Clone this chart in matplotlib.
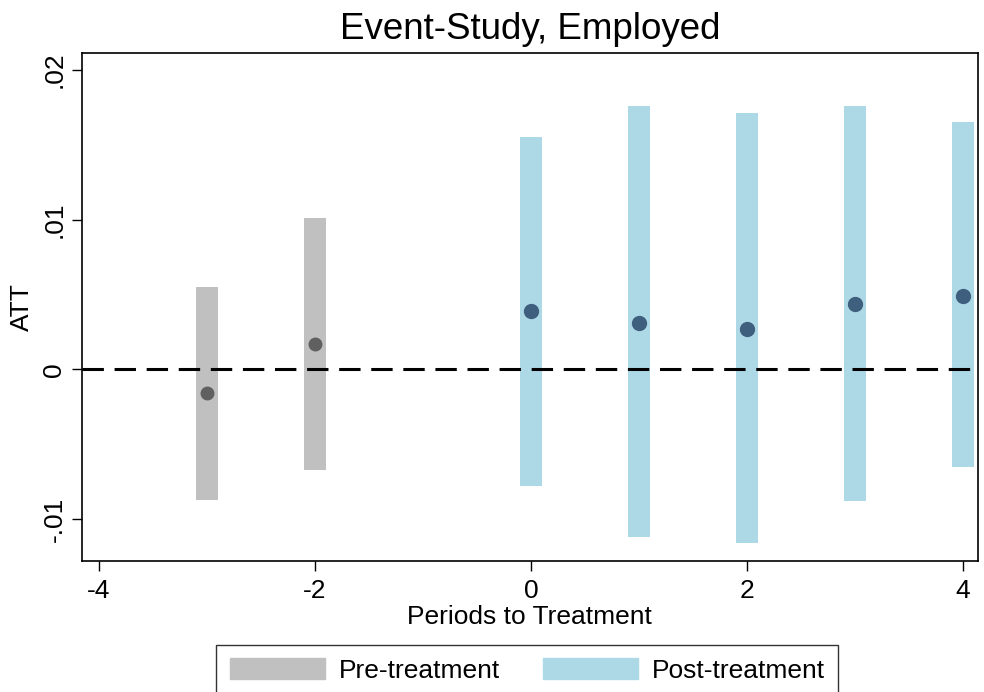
import matplotlib.pyplot as plt
from matplotlib.patches import Patch

plt.rcParams['font.family'] = ['Liberation Sans', 'DejaVu Sans']

# event-study estimates
pre_periods = [-3, -2]
pre_att = [-0.0016, 0.0017]
pre_lo = [-0.0087, -0.0067]
pre_hi = [0.0055, 0.0101]

post_periods = [0, 1, 2, 3, 4]
post_att = [0.0039, 0.0031, 0.0027, 0.0044, 0.0049]
post_lo = [-0.0078, -0.0112, -0.0116, -0.0088, -0.0065]
post_hi = [0.0155, 0.0176, 0.0171, 0.0176, 0.0165]

yticks = [-0.01, 0, 0.01, 0.02]
ytick_labels = ["-.01", "0", ".01", ".02"]
xticks = [-4, -2, 0, 2, 4]

pre_bar = "#c0c0c0"
post_bar = "#add8e6"
pre_dot = "#606060"
post_dot = "#3e5f7d"

fig = plt.figure(figsize=(9.84, 6.92), dpi=100)
ax = fig.add_axes([0.083, 0.189, 0.911, 0.734])

ax.bar(pre_periods, [h - l for h, l in zip(pre_hi, pre_lo)], bottom=pre_lo,
       width=0.2, color=pre_bar, zorder=2)
ax.bar(post_periods, [h - l for h, l in zip(post_hi, post_lo)], bottom=post_lo,
       width=0.2, color=post_bar, zorder=2)

ax.axhline(0, color="black", lw=2.2, dashes=(7, 3.5), zorder=3)

ax.plot(pre_periods, pre_att, "o", color=pre_dot, markersize=9, zorder=4)
ax.plot(post_periods, post_att, "o", color=post_dot, markersize=10, zorder=4)

ax.set_xlim(-4.16, 4.14)
ax.set_ylim(-0.0128, 0.0211)
ax.set_xticks(xticks)
ax.set_xticklabels([str(x) for x in xticks])
ax.set_yticks(yticks)
ax.set_yticklabels(ytick_labels, rotation=90, va="center")
ax.tick_params(labelsize=19, length=7, width=1)
ax.tick_params(axis="x", pad=6)
ax.tick_params(axis="y", pad=4)

for s in ax.spines.values():
    s.set_linewidth(1.2)

ax.set_title("Event-Study, Employed", fontsize=26.5, pad=10)
ax.set_xlabel("Periods to Treatment", fontsize=19, labelpad=1)
ax.set_ylabel("ATT", fontsize=19, labelpad=6)

handles = [Patch(color=pre_bar, label="Pre-treatment"),
           Patch(color=post_bar, label="Post-treatment")]
leg = fig.legend(handles=handles, loc="upper center", bbox_to_anchor=(0.536, 0.068),
                 ncol=2, fontsize=19, frameon=True, fancybox=False,
                 edgecolor="black", handlelength=3.6, handleheight=0.85,
                 columnspacing=1.6, handletextpad=0.55, borderpad=0.5,
                 borderaxespad=0)
leg.get_frame().set_linewidth(1.0)

fig.savefig("out.png", dpi=100)
